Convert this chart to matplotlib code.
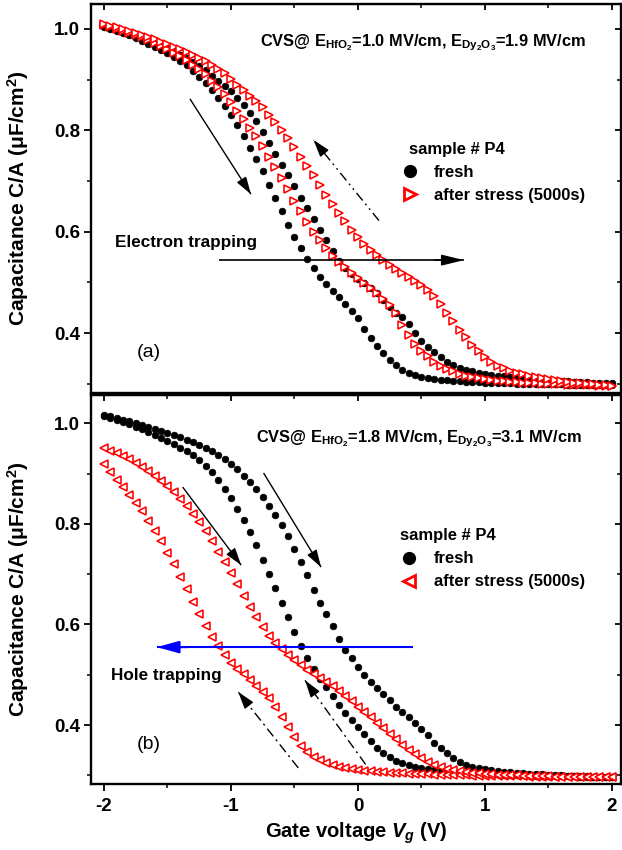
import matplotlib
matplotlib.use("Agg")
import matplotlib.pyplot as plt
from matplotlib.ticker import MultipleLocator
from matplotlib.lines import Line2D

plt.rcParams['font.family'] = ['Liberation Sans', 'DejaVu Sans']
plt.rcParams['mathtext.fontset'] = 'custom'
plt.rcParams['mathtext.rm'] = 'Liberation Sans:bold'
plt.rcParams['mathtext.it'] = 'Liberation Sans:italic:bold'
plt.rcParams['mathtext.bf'] = 'Liberation Sans:bold'
plt.rcParams['axes.unicode_minus'] = False

# ---------------- data ----------------
gate_voltage = [-2.00, -1.95, -1.90, -1.85, -1.80, -1.75, -1.70, -1.65, -1.60, -1.55,
                -1.50, -1.45, -1.40, -1.35, -1.30, -1.25, -1.20, -1.15, -1.10, -1.05,
                -1.00, -0.95, -0.90, -0.85, -0.80, -0.75, -0.70, -0.65, -0.60, -0.55,
                -0.50, -0.45, -0.40, -0.35, -0.30, -0.25, -0.20, -0.15, -0.10, -0.05,
                0.00, 0.05, 0.10, 0.15, 0.20, 0.25, 0.30, 0.35, 0.40, 0.45,
                0.50, 0.55, 0.60, 0.65, 0.70, 0.75, 0.80, 0.85, 0.90, 0.95,
                1.00, 1.05, 1.10, 1.15, 1.20, 1.25, 1.30, 1.35, 1.40, 1.45,
                1.50, 1.55, 1.60, 1.65, 1.70, 1.75, 1.80, 1.85, 1.90, 1.95,
                2.00]

# panel (a)
a_fresh_sweep1 = [1.004, 1.000, 0.996, 0.992, 0.987, 0.982, 0.977, 0.971, 0.965, 0.959,
                  0.952, 0.945, 0.937, 0.928, 0.917, 0.905, 0.893, 0.879, 0.863, 0.847,
                  0.830, 0.810, 0.788, 0.766, 0.744, 0.719, 0.693, 0.667, 0.640, 0.614,
                  0.590, 0.567, 0.547, 0.528, 0.511, 0.497, 0.484, 0.471, 0.458, 0.444,
                  0.429, 0.409, 0.390, 0.375, 0.360, 0.347, 0.337, 0.328, 0.322, 0.317,
                  0.314, 0.311, 0.309, 0.308, 0.307, 0.306, 0.305, 0.304, 0.303, 0.303,
                  0.302, 0.302, 0.301, 0.301, 0.301, 0.300, 0.300, 0.300, 0.300, 0.299,
                  0.299, 0.299, 0.299, 0.298, 0.298, 0.298, 0.298, 0.298, 0.297, 0.297,
                  0.297]
a_fresh_sweep2 = [1.005, 1.001, 0.998, 0.994, 0.990, 0.985, 0.981, 0.976, 0.971, 0.966,
                  0.961, 0.955, 0.949, 0.942, 0.935, 0.927, 0.918, 0.908, 0.898, 0.888,
                  0.877, 0.864, 0.850, 0.835, 0.818, 0.797, 0.775, 0.753, 0.732, 0.712,
                  0.690, 0.667, 0.646, 0.625, 0.603, 0.583, 0.562, 0.543, 0.528, 0.516,
                  0.507, 0.499, 0.489, 0.479, 0.466, 0.451, 0.440, 0.431, 0.418, 0.400,
                  0.384, 0.372, 0.362, 0.352, 0.343, 0.337, 0.332, 0.328, 0.325, 0.322,
                  0.320, 0.318, 0.316, 0.315, 0.313, 0.312, 0.311, 0.310, 0.309, 0.308,
                  0.307, 0.306, 0.305, 0.305, 0.304, 0.303, 0.303, 0.302, 0.302, 0.301,
                  0.301]
a_stress_sweep1 = [1.008, 1.004, 1.000, 0.996, 0.992, 0.988, 0.983, 0.978, 0.972, 0.966,
                   0.960, 0.953, 0.946, 0.938, 0.929, 0.920, 0.910, 0.898, 0.886, 0.871,
                   0.855, 0.839, 0.823, 0.805, 0.788, 0.769, 0.748, 0.727, 0.706, 0.684,
                   0.661, 0.640, 0.620, 0.600, 0.584, 0.567, 0.552, 0.541, 0.530, 0.518,
                   0.508, 0.498, 0.489, 0.479, 0.468, 0.455, 0.439, 0.417, 0.397, 0.379,
                   0.365, 0.354, 0.344, 0.336, 0.330, 0.325, 0.320, 0.316, 0.313, 0.311,
                   0.309, 0.307, 0.306, 0.305, 0.304, 0.303, 0.302, 0.302, 0.301, 0.300,
                   0.300, 0.299, 0.299, 0.298, 0.298, 0.297, 0.297, 0.297, 0.296, 0.296,
                   0.296]
a_stress_sweep2 = [1.010, 1.006, 1.003, 0.999, 0.996, 0.992, 0.988, 0.984, 0.980, 0.975,
                   0.970, 0.965, 0.960, 0.954, 0.948, 0.942, 0.936, 0.929, 0.921, 0.912,
                   0.901, 0.889, 0.879, 0.868, 0.857, 0.845, 0.831, 0.816, 0.801, 0.784,
                   0.767, 0.748, 0.729, 0.711, 0.692, 0.673, 0.655, 0.637, 0.621, 0.604,
                   0.589, 0.575, 0.564, 0.554, 0.545, 0.534, 0.527, 0.519, 0.511, 0.503,
                   0.495, 0.486, 0.474, 0.458, 0.440, 0.424, 0.407, 0.392, 0.377, 0.364,
                   0.353, 0.343, 0.336, 0.331, 0.326, 0.322, 0.319, 0.316, 0.313, 0.311,
                   0.309, 0.307, 0.305, 0.304, 0.302, 0.301, 0.300, 0.299, 0.298, 0.297,
                   0.296]

# panel (b)
b_fresh_sweep1 = [1.015, 1.011, 1.007, 1.003, 0.998, 0.993, 0.988, 0.983, 0.977, 0.971,
                  0.965, 0.958, 0.951, 0.944, 0.936, 0.926, 0.915, 0.902, 0.887, 0.870,
                  0.851, 0.830, 0.808, 0.784, 0.757, 0.729, 0.701, 0.672, 0.643, 0.614,
                  0.585, 0.558, 0.534, 0.512, 0.492, 0.475, 0.457, 0.440, 0.424, 0.410,
                  0.396, 0.382, 0.368, 0.355, 0.345, 0.336, 0.329, 0.324, 0.320, 0.317,
                  0.314, 0.312, 0.310, 0.309, 0.308, 0.307, 0.306, 0.305, 0.304, 0.303,
                  0.303, 0.302, 0.302, 0.301, 0.301, 0.300, 0.300, 0.300, 0.299, 0.299,
                  0.299, 0.298, 0.298, 0.298, 0.298, 0.297, 0.297, 0.297, 0.297, 0.296,
                  0.296]
b_fresh_sweep2 = [1.017, 1.014, 1.011, 1.007, 1.004, 1.000, 0.997, 0.993, 0.989, 0.985,
                  0.981, 0.977, 0.972, 0.967, 0.962, 0.957, 0.951, 0.944, 0.936, 0.928,
                  0.918, 0.908, 0.896, 0.883, 0.869, 0.853, 0.836, 0.818, 0.798, 0.776,
                  0.750, 0.724, 0.698, 0.669, 0.643, 0.620, 0.597, 0.572, 0.550, 0.533,
                  0.516, 0.500, 0.486, 0.473, 0.462, 0.450, 0.437, 0.426, 0.416, 0.405,
                  0.393, 0.380, 0.365, 0.354, 0.344, 0.334, 0.326, 0.321, 0.317, 0.314,
                  0.312, 0.310, 0.308, 0.307, 0.306, 0.305, 0.304, 0.303, 0.302, 0.302,
                  0.301, 0.300, 0.300, 0.299, 0.299, 0.298, 0.298, 0.297, 0.297, 0.297,
                  0.296]
b_stress_sweep1 = [0.918, 0.903, 0.888, 0.873, 0.858, 0.842, 0.825, 0.806, 0.786, 0.765,
                   0.743, 0.720, 0.695, 0.670, 0.645, 0.620, 0.597, 0.576, 0.557, 0.539,
                   0.524, 0.512, 0.501, 0.489, 0.478, 0.466, 0.453, 0.437, 0.417, 0.396,
                   0.376, 0.359, 0.347, 0.337, 0.330, 0.324, 0.320, 0.317, 0.314, 0.312,
                   0.310, 0.309, 0.308, 0.307, 0.306, 0.305, 0.304, 0.304, 0.303, 0.303,
                   0.302, 0.302, 0.301, 0.301, 0.301, 0.300, 0.300, 0.300, 0.299, 0.299,
                   0.299, 0.299, 0.298, 0.298, 0.298, 0.298, 0.298, 0.297, 0.297, 0.297,
                   0.297, 0.297, 0.297, 0.296, 0.296, 0.296, 0.296, 0.296, 0.296, 0.296,
                   0.296]
b_stress_sweep2 = [0.950, 0.945, 0.940, 0.934, 0.928, 0.921, 0.913, 0.905, 0.896, 0.886,
                   0.875, 0.863, 0.850, 0.835, 0.819, 0.803, 0.785, 0.765, 0.745, 0.724,
                   0.702, 0.680, 0.657, 0.635, 0.614, 0.594, 0.578, 0.564, 0.551, 0.540,
                   0.530, 0.520, 0.510, 0.502, 0.494, 0.486, 0.477, 0.468, 0.458, 0.448,
                   0.437, 0.427, 0.416, 0.405, 0.394, 0.383, 0.372, 0.360, 0.350, 0.342,
                   0.334, 0.327, 0.321, 0.317, 0.313, 0.310, 0.308, 0.306, 0.305, 0.304,
                   0.303, 0.302, 0.301, 0.301, 0.300, 0.300, 0.299, 0.299, 0.298, 0.298,
                   0.298, 0.297, 0.297, 0.297, 0.297, 0.297, 0.296, 0.296, 0.296, 0.296,
                   0.296]

legend_title = "sample # P4"
legend_labels = ["fresh", "after stress (5000s)"]
cvs_a = r"CVS@ E$_{\mathregular{HfO_2}}$=1.0 MV/cm, E$_{\mathregular{Dy_2O_3}}$=1.9 MV/cm"
cvs_b = r"CVS@ E$_{\mathregular{HfO_2}}$=1.8 MV/cm, E$_{\mathregular{Dy_2O_3}}$=3.1 MV/cm"
ylabel_text = r"Capacitance C/A (μF/cm$^{\mathregular{2}}$)"
xlabel_text = r"Gate voltage $V_g$ (V)"

# annotation arrows (tail, head) in data coordinates
arrows_a = {"sweep_down": ((-1.323, 0.862), (-0.843, 0.674)),
            "sweep_up": ((0.165, 0.622), (-0.35, 0.781)),
            "shift": ((-1.094, 0.544), (0.835, 0.544))}
arrows_b = {"down1": ((-1.38, 0.873), (-0.92, 0.718)),
            "down2": ((-0.743, 0.901), (-0.291, 0.714)),
            "up1": ((-0.47, 0.315), (-0.943, 0.466)),
            "up2": ((0.06, 0.322), (-0.417, 0.489)),
            "shift": ((0.433, 0.555), (-1.583, 0.555))}

# ---------------- figure ----------------
fig = plt.figure(figsize=(6.22, 8.5), dpi=100)
axL, axW, axH = 91 / 622, 530 / 622, 389 / 850
ax_a = fig.add_axes([axL, (850 - 393) / 850, axW, axH])
ax_b = fig.add_axes([axL, (850 - 784) / 850, axW, axH])

RED = '#ff0000'
for ax, ylim in ((ax_a, (0.282, 1.049)), (ax_b, (0.283, 1.056))):
    ax.set_xlim(-2.102, 2.071)
    ax.set_ylim(*ylim)
    ax.xaxis.set_major_locator(MultipleLocator(1))
    ax.xaxis.set_minor_locator(MultipleLocator(0.5))
    ax.yaxis.set_major_locator(MultipleLocator(0.2))
    ax.yaxis.set_minor_locator(MultipleLocator(0.1))
    ax.tick_params(which='major', direction='out', length=5, width=1.3, labelsize=13.5, pad=3)
    ax.tick_params(which='minor', direction='out', length=3, width=1.1)
    for s in ax.spines.values():
        s.set_linewidth(1.7)
    sx = ax.secondary_xaxis('top')
    sx.xaxis.set_major_locator(MultipleLocator(1))
    sx.xaxis.set_minor_locator(MultipleLocator(0.5))
    sx.tick_params(which='major', direction='in', length=4.5, width=1.3, labeltop=False)
    sx.tick_params(which='minor', direction='in', length=3, width=1.1)
    sy = ax.secondary_yaxis('right')
    sy.yaxis.set_major_locator(MultipleLocator(0.2))
    sy.yaxis.set_minor_locator(MultipleLocator(0.1))
    sy.tick_params(which='major', direction='in', length=4.5, width=1.3, labelright=False)
    sy.tick_params(which='minor', direction='in', length=3, width=1.1)
    ax.set_ylabel(ylabel_text, fontsize=15, fontweight='bold')
    ax.yaxis.set_label_coords(-0.113, 0.5)

ax_a.tick_params(axis='x', labelbottom=False)
ax_b.set_xlabel(xlabel_text, fontsize=14.5, fontweight='bold')
ax_b.xaxis.set_label_coords(0.5, -0.095)
ax_b.tick_params(axis='x', pad=5)
for ax in (ax_a, ax_b):
    for lab in ax.get_xticklabels() + ax.get_yticklabels():
        lab.set_fontweight('bold')

dot_kw = dict(ls='none', marker='o', ms=4.8, mfc='black', mec='black', mew=0.5)
# panel (a)
ax_a.plot(gate_voltage, a_fresh_sweep1, **dot_kw)
ax_a.plot(gate_voltage, a_fresh_sweep2, **dot_kw)
tri_a = dict(ls='none', marker='>', ms=5.8, mfc='white', mec=RED, mew=1.15)
ax_a.plot(gate_voltage, a_stress_sweep1, **tri_a)
ax_a.plot(gate_voltage, a_stress_sweep2, **tri_a)
# panel (b)
ax_b.plot(gate_voltage, b_fresh_sweep1, **dot_kw)
ax_b.plot(gate_voltage, b_fresh_sweep2, **dot_kw)
tri_b = dict(ls='none', marker='<', ms=5.4, mfc='white', mec=RED, mew=1.15)
ax_b.plot(gate_voltage, b_stress_sweep1, **tri_b)
ax_b.plot(gate_voltage, b_stress_sweep2, **tri_b)


def arrow(ax, tail, head, color='black', lw=1.0, ls='-', hl=0.7, hw=0.22, ms=15):
    ax.plot([tail[0], head[0]], [tail[1], head[1]], color=color, lw=lw, ls=ls,
            solid_capstyle='butt', zorder=5)
    back = (head[0] + 0.12 * (tail[0] - head[0]), head[1] + 0.12 * (tail[1] - head[1]))
    ax.annotate('', xy=head, xytext=back,
                arrowprops=dict(arrowstyle=f'-|>,head_length={hl},head_width={hw}',
                                color=color, lw=lw, mutation_scale=ms,
                                shrinkA=0, shrinkB=0), zorder=6)


ddot = (0, (7, 3, 1.3, 3, 1.3, 3))
dashdot = (0, (7, 3, 1.5, 3))
arrow(ax_a, *arrows_a["sweep_down"])
arrow(ax_a, *arrows_a["sweep_up"], ls=ddot)
arrow(ax_a, *arrows_a["shift"], lw=1.2, hl=0.9, hw=0.22)
arrow(ax_b, *arrows_b["down1"])
arrow(ax_b, *arrows_b["down2"])
arrow(ax_b, *arrows_b["up1"], ls=dashdot)
arrow(ax_b, *arrows_b["up2"], ls=dashdot)
arrow(ax_b, *arrows_b["shift"], color='#0000ff', lw=1.5, hl=0.9, hw=0.25)

# texts
ax_a.text(0.319, 0.892, cvs_a, transform=ax_a.transAxes, fontsize=11.8, fontweight='bold',
          va='baseline', ha='left')
ax_b.text(0.311, 0.879, cvs_b, transform=ax_b.transAxes, fontsize=11.8, fontweight='bold',
          va='baseline', ha='left')
ax_a.text(0.045, 0.375, "Electron trapping", transform=ax_a.transAxes, fontsize=12.3,
          fontweight='bold', va='baseline', ha='left')
ax_b.text(0.038, 0.267, "Hole trapping", transform=ax_b.transAxes, fontsize=12.3,
          fontweight='bold', va='baseline', ha='left')
ax_a.text(0.087, 0.0925, "(a)", transform=ax_a.transAxes, fontsize=14, va='baseline', ha='left')
ax_b.text(0.087, 0.090, "(b)", transform=ax_b.transAxes, fontsize=14, va='baseline', ha='left')

# legends: (axes, marker, anchor, handlelength, handletextpad)
for ax, mk, anchor, hlen, hpad in ((ax_a, '>', (0.600, 0.646), 0.1, 1.4),
                                   (ax_b, '<', (0.583, 0.657), 1.08, 0.95)):
    handles = [Line2D([], [], ls='none', marker='o', ms=8.5, mfc='black', mec='black'),
               Line2D([], [], ls='none', marker=mk, ms=8.5, mfc='white', mec=RED, mew=2)]
    ax.legend(handles, legend_labels, title=legend_title, loc='upper left',
              bbox_to_anchor=anchor, frameon=False, borderpad=0, borderaxespad=0,
              handlelength=hlen, handletextpad=hpad, labelspacing=0.48,
              prop={'size': 12, 'weight': 'bold'},
              title_fontproperties={'size': 12, 'weight': 'bold'},
              alignment='left')

fig.savefig("out.png", dpi=100)
